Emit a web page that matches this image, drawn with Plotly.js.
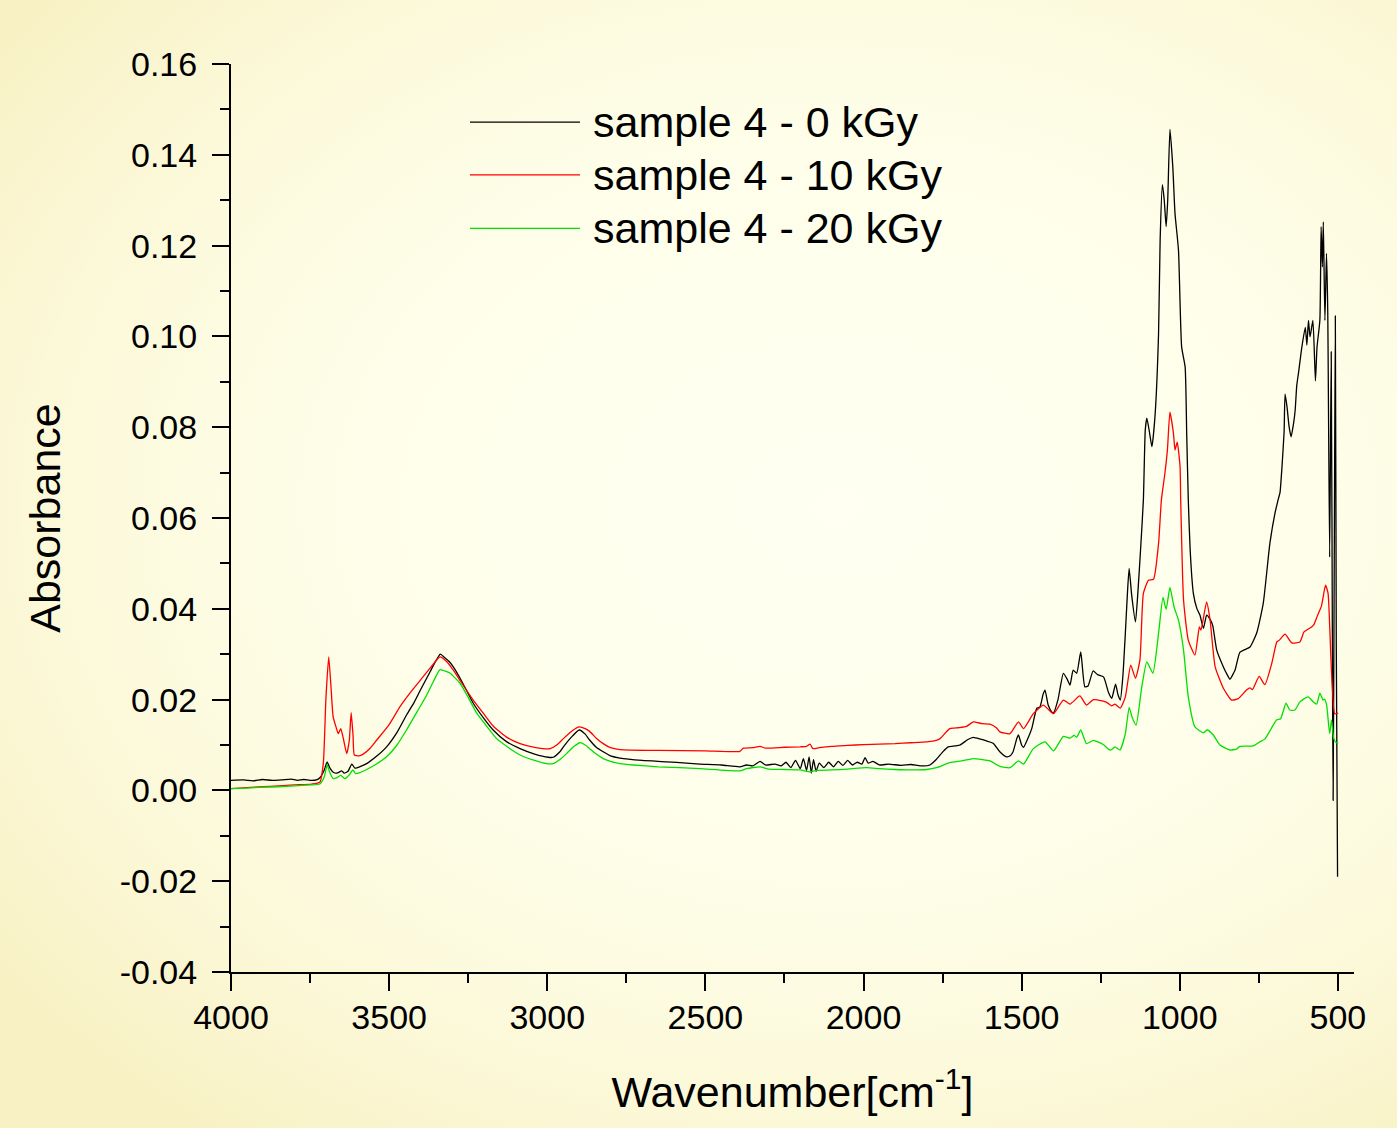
<!DOCTYPE html>
<html>
<head>
<meta charset="utf-8">
<script src="https://cdn.plot.ly/plotly-3.0.1.min.js"></script>
<style>
  html, body { margin: 0; padding: 0; }
  body {
    width: 1397px; height: 1128px; overflow: hidden;
    background: radial-gradient(ellipse 75% 70% at 60% 45%, #FFFFF2 0%, #FEFEEA 45%, #FCF9DA 75%, #F8F1C4 100%);
  }
  #chart { position: absolute; left: 0; top: 0; width: 1397px; height: 1128px; }
</style>
</head>
<body>
<div id="chart"></div>
<script>
// ---- data (wavenumber in cm^-1, absorbance) ----
const seriesNames = ["sample 4 - 0 kGy", "sample 4 - 10 kGy", "sample 4 - 20 kGy"];
const seriesColors = ["#000000", "#FF0000", "#00E000"];

const wn0 = [4000,3960,3930,3900,3870,3840,3810,3790,3770,3750,3730,3719,3705,3696,3688,3677,3665,3650,3642,3630,3618,3608,3590,3571,3540,3508,3475,3445,3420,3401,3370,3350,3338,3325,3310,3297,3270,3234,3200,3171,3130,3086,3040,2997,2981,2960,2949,2920,2899,2880,2866,2845,2823,2800,2770,2700,2622,2560,2517,2450,2391,2370,2350,2327,2310,2280,2260,2245,2230,2215,2200,2190,2180,2172,2165,2158,2150,2140,2125,2110,2095,2080,2065,2050,2035,2020,2005,1995,1985,1970,1950,1920,1880,1850,1820,1790,1770,1748,1732,1710,1695,1670,1653,1630,1611,1590,1569,1548,1535,1527,1515,1510,1500,1494,1480,1468,1452,1442,1432,1426,1416,1405,1399,1385,1368,1356,1347,1337,1326,1313,1300,1290,1274,1260,1241,1225,1215,1203,1195,1188,1180,1172,1165,1160,1152,1140,1132,1124,1115,1109,1104,1096,1088,1078,1067,1062,1055,1049,1043,1038,1031,1022,1015,1004,994,983,978,973,967,957,946,936,925,915,905,896,883,862,850,841,830,825,810,795,778,757,736,715,699,689,683,677,670,667,661,654,648,640,635,630,624,614,603,598,593,588,579,571,566,557,553,549,546,541,536,532,526,521,517,515,511,508,505,501];
const abs0 = [0.0022,0.0023,0.0021,0.0024,0.0022,0.0023,0.0025,0.0022,0.0024,0.0022,0.0023,0.0028,0.0045,0.0063,0.0050,0.0040,0.0038,0.0043,0.0038,0.0042,0.0058,0.0049,0.0053,0.0059,0.0075,0.0096,0.0128,0.0166,0.0195,0.0221,0.0262,0.0288,0.0300,0.0293,0.0284,0.0272,0.0240,0.0192,0.0158,0.0133,0.0108,0.0092,0.0080,0.0073,0.0073,0.0085,0.0096,0.0120,0.0133,0.0124,0.0111,0.0095,0.0085,0.0076,0.0071,0.0066,0.0063,0.0060,0.0058,0.0056,0.0052,0.0056,0.0054,0.0064,0.0056,0.0058,0.0054,0.0062,0.0050,0.0066,0.0048,0.0070,0.0044,0.0074,0.0038,0.0068,0.0042,0.0060,0.0050,0.0062,0.0052,0.0064,0.0055,0.0066,0.0056,0.0062,0.0058,0.0072,0.0060,0.0064,0.0056,0.0058,0.0055,0.0057,0.0054,0.0056,0.0068,0.0086,0.0096,0.0098,0.0100,0.0112,0.0117,0.0113,0.0109,0.0104,0.0085,0.0074,0.0077,0.0085,0.0115,0.0122,0.0100,0.0095,0.0115,0.0136,0.0181,0.0184,0.0212,0.0221,0.0188,0.0173,0.0171,0.0200,0.0258,0.0245,0.0232,0.0265,0.0258,0.0305,0.0228,0.0230,0.0263,0.0255,0.0250,0.0215,0.0203,0.0234,0.0210,0.0199,0.0250,0.0346,0.0440,0.0489,0.0430,0.0371,0.0440,0.0529,0.0640,0.0794,0.0820,0.0790,0.0757,0.0827,0.1007,0.1213,0.1334,0.1300,0.1242,0.1301,0.1456,0.1374,0.1271,0.1190,0.0977,0.0933,0.0786,0.0640,0.0529,0.0434,0.0401,0.0386,0.0357,0.0386,0.0378,0.0364,0.0309,0.0272,0.0255,0.0245,0.0258,0.0265,0.0304,0.0310,0.0316,0.0346,0.0412,0.0544,0.0610,0.0640,0.0656,0.0710,0.0790,0.0873,0.0846,0.0800,0.0779,0.0809,0.0838,0.0892,0.0922,0.0976,0.1020,0.0981,0.1035,0.0999,0.1035,0.0902,0.0976,0.1035,0.1242,0.1153,0.1252,0.1035,0.1183,0.1055,0.0514,0.0966,0.0248,-0.0022,0.0583,0.1045,0.0317,-0.0190];

const wn10 = [4000,3950,3900,3850,3800,3745,3719,3708,3700,3691,3684,3677,3668,3661,3653,3645,3634,3626,3620,3614,3610,3595,3582,3560,3539,3500,3466,3430,3401,3370,3339,3320,3297,3270,3234,3200,3171,3130,3086,3040,2991,2970,2949,2920,2899,2880,2866,2845,2823,2800,2770,2650,2500,2391,2380,2350,2327,2310,2250,2200,2180,2169,2160,2140,2100,2050,2000,1950,1900,1850,1800,1770,1758,1727,1700,1674,1653,1625,1600,1580,1569,1537,1510,1494,1463,1431,1415,1399,1368,1347,1316,1295,1273,1245,1231,1215,1205,1188,1172,1155,1140,1126,1115,1099,1083,1067,1058,1047,1039,1031,1020,1015,1008,999,997,988,973,952,938,933,915,904,888,862,836,815,789,778,770,749,731,709,693,685,667,646,620,607,583,576,564,552,539,531,510,499];
const abs10 = [0.0004,0.0006,0.0008,0.0010,0.0012,0.0014,0.0018,0.0060,0.0200,0.0294,0.0230,0.0162,0.0140,0.0125,0.0136,0.0115,0.0081,0.0110,0.0171,0.0120,0.0078,0.0076,0.0080,0.0093,0.0111,0.0145,0.0184,0.0218,0.0243,0.0270,0.0294,0.0285,0.0265,0.0236,0.0199,0.0168,0.0142,0.0118,0.0103,0.0095,0.0092,0.0100,0.0114,0.0132,0.0140,0.0136,0.0130,0.0115,0.0103,0.0094,0.0090,0.0088,0.0087,0.0086,0.0093,0.0094,0.0097,0.0093,0.0095,0.0096,0.0097,0.0102,0.0092,0.0094,0.0097,0.0099,0.0101,0.0102,0.0103,0.0105,0.0107,0.0110,0.0114,0.0136,0.0138,0.0141,0.0151,0.0147,0.0146,0.0138,0.0129,0.0125,0.0151,0.0136,0.0169,0.0188,0.0178,0.0169,0.0199,0.0190,0.0208,0.0188,0.0200,0.0197,0.0194,0.0186,0.0190,0.0181,0.0206,0.0276,0.0247,0.0287,0.0434,0.0463,0.0465,0.0544,0.0640,0.0698,0.0750,0.0833,0.0787,0.0750,0.0767,0.0713,0.0640,0.0420,0.0331,0.0298,0.0360,0.0353,0.0415,0.0375,0.0272,0.0225,0.0199,0.0202,0.0221,0.0226,0.0222,0.0251,0.0233,0.0280,0.0327,0.0331,0.0344,0.0325,0.0327,0.0349,0.0360,0.0365,0.0386,0.0406,0.0452,0.0434,0.0169,0.0170];

const wn20 = [4000,3950,3900,3850,3800,3750,3719,3705,3696,3688,3677,3665,3653,3640,3625,3615,3606,3590,3571,3540,3508,3475,3445,3410,3381,3360,3339,3320,3307,3276,3250,3223,3190,3160,3120,3086,3040,3002,2981,2960,2939,2915,2897,2880,2866,2845,2823,2800,2770,2728,2650,2517,2391,2370,2327,2300,2250,2200,2169,2150,2100,2050,1990,1950,1900,1850,1800,1769,1727,1690,1653,1625,1600,1569,1537,1510,1494,1463,1426,1399,1368,1347,1334,1326,1313,1295,1273,1242,1221,1215,1205,1189,1172,1160,1150,1138,1120,1104,1085,1067,1053,1043,1031,1018,1004,988,973,952,925,913,894,873,841,820,810,768,747,731,694,681,664,652,636,620,594,578,567,557,547,543,536,526,520,513,505,499];
const abs20 = [0.0004,0.0005,0.0007,0.0008,0.0010,0.0012,0.0014,0.0030,0.0056,0.0040,0.0026,0.0028,0.0033,0.0026,0.0035,0.0045,0.0037,0.0040,0.0046,0.0058,0.0074,0.0100,0.0133,0.0175,0.0210,0.0240,0.0266,0.0262,0.0258,0.0236,0.0205,0.0170,0.0140,0.0114,0.0093,0.0078,0.0066,0.0059,0.0059,0.0068,0.0081,0.0097,0.0105,0.0100,0.0092,0.0080,0.0070,0.0064,0.0059,0.0056,0.0052,0.0048,0.0043,0.0048,0.0052,0.0047,0.0046,0.0045,0.0041,0.0044,0.0045,0.0047,0.0050,0.0048,0.0046,0.0045,0.0046,0.0050,0.0061,0.0065,0.0070,0.0068,0.0065,0.0053,0.0050,0.0065,0.0058,0.0092,0.0107,0.0087,0.0119,0.0115,0.0121,0.0117,0.0133,0.0103,0.0110,0.0101,0.0089,0.0090,0.0096,0.0089,0.0125,0.0183,0.0160,0.0144,0.0228,0.0283,0.0258,0.0346,0.0425,0.0399,0.0447,0.0404,0.0375,0.0309,0.0206,0.0140,0.0127,0.0133,0.0122,0.0100,0.0089,0.0091,0.0097,0.0098,0.0107,0.0113,0.0155,0.0158,0.0192,0.0177,0.0177,0.0195,0.0206,0.0195,0.0190,0.0214,0.0199,0.0201,0.0190,0.0125,0.0155,0.0114,0.0105,0.0105];

const xTickVals = [4000,3500,3000,2500,2000,1500,1000,500];
const yTickVals = [-0.04,-0.02,0.00,0.02,0.04,0.06,0.08,0.10,0.12,0.14,0.16];
const yTickText = ["-0.04","-0.02","0.00","0.02","0.04","0.06","0.08","0.10","0.12","0.14","0.16"];

const xs = [wn0, wn10, wn20];
const ys = [abs0, abs10, abs20];

const FONT = "Arial, 'Liberation Sans', sans-serif";

const traces = xs.map((x, i) => ({
  type: "scatter", mode: "lines", x: x, y: ys[i], name: seriesNames[i],
  line: { color: seriesColors[i], width: 1.3, shape: "spline", smoothing: 0.5 },
  showlegend: false, hoverinfo: "skip"
}));

// custom legend (long line samples as in the reference)
const legendRowsY = [0.936, 0.878, 0.819];
const shapes = [], annotations = [];
seriesNames.forEach((n, i) => {
  shapes.push({ type: "line", xref: "paper", yref: "paper", x0: 0.2128, x1: 0.3108,
    y0: legendRowsY[i], y1: legendRowsY[i], line: { color: seriesColors[i], width: 1.3 } });
  annotations.push({ xref: "paper", yref: "paper", x: 0.3205, y: legendRowsY[i],
    xanchor: "left", yanchor: "middle", showarrow: false, text: n,
    font: { family: FONT, size: 43, color: "#000" } });
});

const layout = {
  width: 1397, height: 1128,
  margin: { l: 231, r: 43, t: 64, b: 156, pad: 0 },
  paper_bgcolor: "rgba(0,0,0,0)", plot_bgcolor: "rgba(0,0,0,0)",
  font: { family: FONT, color: "#000" },
  xaxis: {
    range: [4000, 449], autorange: false,
    tickvals: xTickVals, ticktext: xTickVals.map(String),
    showgrid: false, zeroline: false, showline: true, linecolor: "#000", linewidth: 2,
    ticks: "outside", ticklen: 17, tickwidth: 2, tickcolor: "#000",
    minor: { dtick: 250, tick0: 0, ticks: "outside", ticklen: 9, tickwidth: 2, tickcolor: "#000", showgrid: false },
    tickfont: { family: FONT, size: 34, color: "#000" },
    ticklabelstandoff: -3,
    title: { text: "Wavenumber[cm<sup>-1</sup>]", font: { family: FONT, size: 43, color: "#000" }, standoff: 42 }
  },
  yaxis: {
    range: [-0.04, 0.16], autorange: false,
    tickvals: yTickVals, ticktext: yTickText,
    showgrid: false, zeroline: false, showline: true, linecolor: "#000", linewidth: 2,
    ticks: "outside", ticklen: 17, tickwidth: 2, tickcolor: "#000",
    minor: { dtick: 0.01, tick0: 0, ticks: "outside", ticklen: 9, tickwidth: 2, tickcolor: "#000", showgrid: false },
    tickfont: { family: FONT, size: 34, color: "#000" },
    ticklabelstandoff: 8,
    title: { text: "Absorbance", font: { family: FONT, size: 43, color: "#000" }, standoff: 46 }
  },
  shapes: shapes,
  annotations: annotations,
  showlegend: false
};

Plotly.newPlot("chart", traces, layout, { staticPlot: true, displayModeBar: false });
</script>
</body>
</html>
